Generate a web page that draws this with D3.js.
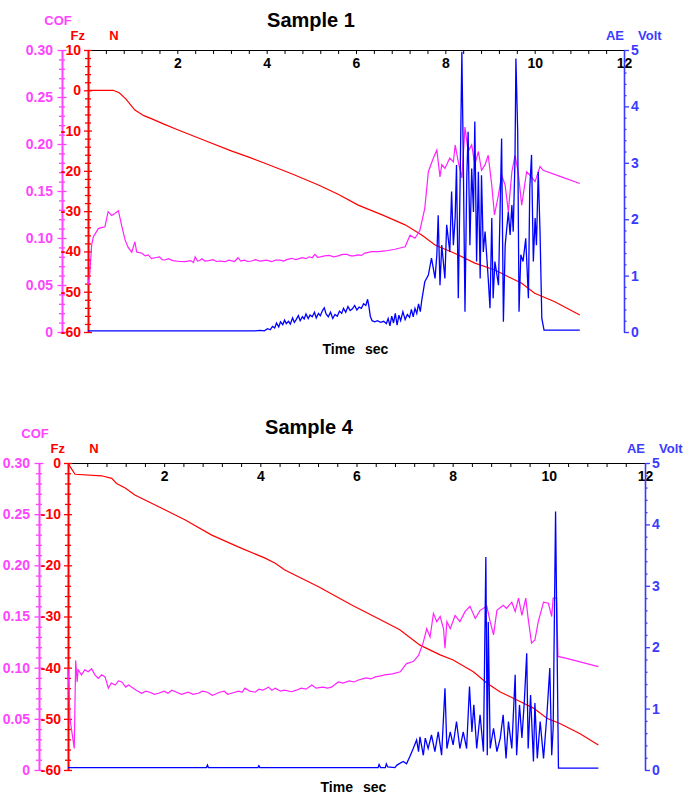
<!DOCTYPE html>
<html>
<head>
<meta charset="utf-8">
<script src="https://cdn.jsdelivr.net/npm/d3@7"></script>
<style>
  body { margin: 0; background: #fff; }
  svg { display: block; }
  text { font-family: Arial, "Liberation Sans", sans-serif; font-weight: bold; }
</style>
</head>
<body>
<svg id="chart" width="688" height="796"></svg>
<script>
// ---- Sample 1 : [time s, value] ----
const s1Force = [[0,0],[0.56,0],[0.7,-0.6],[0.85,-2.2],[1.05,-4.9],[1.25,-6.3],[1.43,-7.1],[1.7,-8.4],[2.02,-9.85],[2.6,-12.4],[3.22,-15.1],[3.6,-16.6],[3.96,-18.1],[4.6,-20.9],[5.16,-23.5],[5.6,-25.8],[6.05,-28.5],[6.6,-31.0],[7.1,-33.4],[7.47,-35.9],[7.77,-38.4],[8.22,-40.5],[8.66,-42.9],[9.11,-44.6],[9.41,-46.3],[9.71,-47.9],[10.0,-50.4],[10.45,-52.5],[11.01,-55.8]];
const s1Cof = [[0,0.05],[0.04,0.062],[0.083,0.093],[0.119,0.101],[0.18,0.106],[0.23,0.110],[0.3,0.111],[0.38,0.112],[0.45,0.128],[0.53,0.124],[0.6,0.126],[0.68,0.129],[0.75,0.114],[0.83,0.098],[0.9,0.09],[0.98,0.085],[1.05,0.096],[1.09,0.085],[1.2,0.084],[1.28,0.081],[1.35,0.082],[1.42,0.078],[1.5,0.079],[1.6,0.080],[1.66,0.077],[1.72,0.0766],[1.8,0.078],[1.9,0.076],[2.05,0.075],[2.17,0.0748],[2.3,0.076],[2.36,0.074],[2.4,0.080],[2.45,0.0755],[2.5,0.076],[2.55,0.078],[2.62,0.0755],[2.7,0.076],[2.8,0.077],[2.88,0.075],[2.95,0.0755],[3.07,0.0748],[3.15,0.0765],[3.2,0.076],[3.28,0.075],[3.36,0.079],[3.42,0.0755],[3.5,0.0765],[3.58,0.075],[3.66,0.0755],[3.75,0.077],[3.85,0.0755],[4.0,0.0765],[4.11,0.0748],[4.2,0.0765],[4.3,0.0765],[4.38,0.0755],[4.45,0.077],[4.56,0.0784],[4.65,0.077],[4.8,0.079],[4.88,0.078],[4.95,0.080],[5.02,0.079],[5.08,0.0826],[5.14,0.0795],[5.2,0.080],[5.3,0.081],[5.4,0.0815],[5.5,0.080],[5.6,0.081],[5.7,0.0825],[5.8,0.0825],[5.88,0.081],[5.95,0.081],[6.05,0.082],[6.12,0.0815],[6.2,0.084],[6.35,0.0854],[6.5,0.0855],[6.65,0.0862],[6.87,0.088],[7.1,0.0907],[7.21,0.103],[7.32,0.0997],[7.43,0.108],[7.54,0.1316],[7.62,0.1705],[7.73,0.1848],[7.81,0.1936],[7.88,0.165],[7.92,0.178],[7.99,0.174],[8.1,0.185],[8.18,0.181],[8.22,0.199],[8.29,0.181],[8.37,0.164],[8.44,0.218],[8.51,0.192],[8.59,0.199],[8.66,0.178],[8.74,0.192],[8.81,0.172],[8.89,0.178],[8.96,0.188],[9.04,0.156],[9.1,0.1245],[9.19,0.146],[9.26,0.167],[9.34,0.156],[9.41,0.128],[9.49,0.1705],[9.56,0.188],[9.63,0.1705],[9.71,0.135],[9.82,0.1705],[9.89,0.167],[10.01,0.160],[10.12,0.176],[10.19,0.172],[10.6,0.165],[11.01,0.158]];
const s1Ae = [[0,0.02],[3.74,0.02],[3.85,0.03],[3.95,0.02],[4.02,0.06],[4.08,0.04],[4.13,0.1],[4.18,0.07],[4.22,0.16],[4.27,0.09],[4.31,0.18],[4.36,0.13],[4.4,0.21],[4.44,0.15],[4.49,0.19],[4.53,0.14],[4.58,0.25],[4.62,0.17],[4.66,0.22],[4.71,0.29],[4.75,0.2],[4.8,0.27],[4.84,0.23],[4.88,0.32],[4.93,0.24],[4.97,0.3],[5.02,0.27],[5.07,0.35],[5.11,0.25],[5.16,0.33],[5.2,0.29],[5.25,0.38],[5.29,0.43],[5.33,0.32],[5.38,0.27],[5.43,0.35],[5.48,0.24],[5.53,0.31],[5.58,0.28],[5.63,0.37],[5.68,0.33],[5.72,0.42],[5.77,0.35],[5.82,0.45],[5.87,0.38],[5.92,0.41],[5.97,0.47],[6.02,0.39],[6.07,0.44],[6.12,0.42],[6.17,0.5],[6.22,0.47],[6.26,0.58],[6.29,0.45],[6.32,0.28],[6.36,0.2],[6.42,0.18],[6.48,0.2],[6.55,0.17],[6.62,0.19],[6.68,0.15],[6.72,0.24],[6.76,0.11],[6.8,0.28],[6.84,0.16],[6.88,0.33],[6.92,0.12],[6.96,0.3],[7.0,0.2],[7.05,0.36],[7.1,0.22],[7.15,0.31],[7.2,0.26],[7.24,0.4],[7.28,0.27],[7.32,0.42],[7.36,0.33],[7.4,0.5],[7.44,0.36],[7.47,0.55],[7.54,0.89],[7.62,1.01],[7.69,1.31],[7.77,0.95],[7.81,1.37],[7.84,2.07],[7.88,0.83],[7.92,1.54],[7.99,0.95],[8.03,1.90],[8.1,1.42],[8.14,2.49],[8.18,1.54],[8.22,2.02],[8.25,2.96],[8.29,0.60],[8.33,2.61],[8.37,4.97],[8.4,3.20],[8.44,0.36],[8.48,2.73],[8.51,3.55],[8.55,1.54],[8.59,2.90],[8.63,2.13],[8.66,3.73],[8.7,1.25],[8.74,2.84],[8.78,0.95],[8.81,2.78],[8.85,1.42],[8.89,1.78],[8.96,0.95],[9.0,0.42],[9.04,2.02],[9.07,0.60],[9.11,1.25],[9.19,0.83],[9.26,3.43],[9.3,0.18],[9.34,1.54],[9.41,2.13],[9.45,1.72],[9.49,2.25],[9.52,1.78],[9.56,3.08],[9.58,4.85],[9.62,3.55],[9.65,0.36],[9.69,1.37],[9.74,1.25],[9.8,1.66],[9.86,0.60],[9.89,2.55],[9.93,3.14],[9.97,1.25],[10.01,2.02],[10.04,1.54],[10.08,2.84],[10.12,1.78],[10.16,0.24],[10.21,0.035],[11.01,0.035]];

// ---- Sample 4 : [time s, value] ----
const s4Force = [[0,0],[0.05,-0.8],[0.146,-2.2],[0.7,-2.5],[0.91,-3.0],[1.01,-4.0],[1.19,-4.9],[1.39,-6.25],[1.95,-8.85],[2.43,-11.1],[2.99,-14.1],[3.54,-16.4],[4.1,-18.6],[4.31,-19.6],[4.51,-20.9],[5.21,-24.2],[5.9,-27.75],[6.49,-30.6],[6.9,-32.6],[7.32,-35.6],[7.74,-37.5],[8.01,-38.5],[8.43,-40.8],[8.71,-43.0],[8.98,-44.7],[9.4,-46.6],[9.68,-47.9],[9.96,-49.9],[10.23,-50.9],[10.65,-52.9],[11.03,-55.1]];
const s4Cof = [[0,0.099],[0.02,0.08],[0.04,0.0505],[0.09,0.034],[0.13,0.021],[0.16,0.107],[0.19,0.086],[0.21,0.098],[0.28,0.093],[0.35,0.098],[0.42,0.096],[0.49,0.099],[0.56,0.093],[0.63,0.0896],[0.7,0.093],[0.77,0.091],[0.84,0.080],[0.9,0.085],[0.98,0.083],[1.05,0.087],[1.12,0.086],[1.2,0.081],[1.26,0.083],[1.32,0.081],[1.42,0.078],[1.53,0.075],[1.62,0.077],[1.7,0.076],[1.8,0.074],[1.88,0.075],[2.0,0.077],[2.08,0.075],[2.16,0.078],[2.26,0.076],[2.36,0.074],[2.5,0.076],[2.6,0.074],[2.71,0.075],[2.8,0.077],[2.9,0.076],[3.0,0.073],[3.06,0.074],[3.15,0.076],[3.25,0.077],[3.32,0.074],[3.4,0.075],[3.55,0.077],[3.62,0.076],[3.68,0.080],[3.78,0.077],[3.89,0.076],[3.97,0.079],[4.05,0.078],[4.17,0.081],[4.24,0.078],[4.31,0.080],[4.42,0.077],[4.5,0.078],[4.65,0.0765],[4.75,0.078],[4.85,0.080],[4.95,0.079],[5.07,0.083],[5.16,0.080],[5.3,0.081],[5.4,0.080],[5.48,0.081],[5.62,0.086],[5.72,0.085],[5.85,0.087],[5.95,0.086],[6.04,0.088],[6.2,0.090],[6.3,0.089],[6.39,0.091],[6.5,0.092],[6.59,0.093],[6.75,0.094],[6.91,0.096],[7.04,0.104],[7.18,0.106],[7.29,0.112],[7.39,0.125],[7.46,0.138],[7.53,0.130],[7.6,0.153],[7.67,0.145],[7.74,0.150],[7.81,0.138],[7.84,0.119],[7.88,0.145],[7.95,0.138],[8.05,0.151],[8.15,0.145],[8.26,0.155],[8.36,0.160],[8.47,0.148],[8.57,0.156],[8.71,0.160],[8.78,0.145],[8.85,0.132],[8.92,0.156],[9.05,0.161],[9.12,0.158],[9.23,0.164],[9.3,0.155],[9.37,0.168],[9.44,0.151],[9.52,0.168],[9.57,0.148],[9.64,0.124],[9.71,0.127],[9.78,0.145],[9.89,0.164],[9.99,0.163],[10.06,0.150],[10.09,0.168],[10.16,0.168],[10.19,0.111],[10.37,0.109],[11.03,0.101]];
const s4Ae = [[0,0.04],[2.88,0.04],[2.9,0.08],[2.92,0.04],[3.95,0.04],[3.97,0.07],[3.99,0.04],[6.45,0.04],[6.47,0.09],[6.5,0.04],[6.6,0.04],[6.62,0.1],[6.65,0.05],[6.8,0.04],[6.84,0.08],[6.97,0.14],[7.04,0.1],[7.11,0.22],[7.18,0.35],[7.25,0.49],[7.29,0.30],[7.32,0.54],[7.39,0.24],[7.43,0.52],[7.49,0.35],[7.56,0.57],[7.63,0.30],[7.7,0.62],[7.77,0.24],[7.84,1.33],[7.88,0.35],[7.95,0.62],[8.01,0.41],[8.08,0.79],[8.15,0.35],[8.22,0.62],[8.29,0.35],[8.35,1.36],[8.4,0.62],[8.44,1.06],[8.5,0.35],[8.57,0.90],[8.64,0.30],[8.69,3.47],[8.72,0.24],[8.74,2.41],[8.78,0.35],[8.85,0.68],[8.92,0.30],[8.99,0.52],[9.05,0.90],[9.11,0.19],[9.16,0.79],[9.23,0.35],[9.3,1.55],[9.33,0.24],[9.39,1.06],[9.44,0.52],[9.49,1.11],[9.54,1.90],[9.57,0.35],[9.62,1.22],[9.68,0.14],[9.71,1.09],[9.76,0.19],[9.82,0.79],[9.89,0.19],[9.96,0.90],[10.02,1.66],[10.06,0.24],[10.09,0.68],[10.14,4.21],[10.16,2.80],[10.2,0.03],[11.03,0.03]];

// ---- axis definitions ----
const timeDomain = [0, 12];
const cofDomain = [0, 0.30];
const aeDomain = [0, 5];
const force1Domain = [-60, 10];
const force4Domain = [-60, 0];

const COLORS = { force: "#ff0000", cof: "#ff22ff", cofAxis: "#ff44ff", ae: "#0000ff", aeAxis: "#3b3bff" };

const svg = d3.select("#chart");

function drawPanel(p) {
  const g = svg.append("g");
  const x = d3.scaleLinear(timeDomain, [p.left, p.right]);
  const yF = d3.scaleLinear(p.forceDomain, [p.bottom, p.top]);
  const yC = d3.scaleLinear(cofDomain, [p.bottom, p.top]);
  const yA = d3.scaleLinear(aeDomain, [p.bottom, p.top]);

  // title
  g.append("text").attr("x", p.titleX).attr("y", p.titleY).attr("text-anchor", "middle")
    .attr("font-size", 20).attr("fill", "#000").text(p.title);

  // time axis along the top, ticks every 0.4 s, labels every 2 s
  const tVals = d3.range(0, 31).map(k => k * 0.4);
  const tAxis = g.append("g").attr("transform", `translate(0,${p.top})`)
    .call(d3.axisBottom(x).tickValues(tVals).tickSize(4).tickSizeOuter(0).tickPadding(4)
      .tickFormat(d => { const k = Math.round(d / 0.4); return (k % 5 === 0 && k > 0) ? String(Math.round(d)) : ""; }));
  tAxis.selectAll("text").attr("font-size", 14).attr("font-family", "Arial, 'Liberation Sans', sans-serif").attr("font-weight", "bold").attr("fill", "#000");
  tAxis.select(".domain").attr("stroke", "#000");

  // vertical axis whose ticks either cross the line or stick out of it
  function vAxis(scale, axisX, values, isMajor, fmt, color, labelColor, majLen, minLen, both, side, labelGap, width) {
    const gen = side === "left" ? d3.axisLeft(scale) : d3.axisRight(scale);
    const a = g.append("g").attr("transform", `translate(${axisX},0)`)
      .call(gen.tickValues(values).tickSizeOuter(0).tickFormat(d => isMajor(d) ? fmt(d) : ""));
    a.select(".domain").attr("stroke", color).attr("stroke-width", width);
    const dir = side === "left" ? -1 : 1;
    a.selectAll(".tick line").attr("stroke", color).attr("stroke-width", 1.3)
      .attr("x1", d => both ? -dir * (isMajor(d) ? majLen : minLen) : 0)
      .attr("x2", d => dir * (isMajor(d) ? majLen : minLen));
    a.selectAll(".tick text").attr("x", dir * labelGap).attr("fill", labelColor)
      .attr("font-size", 14).attr("font-family", "Arial, 'Liberation Sans', sans-serif").attr("font-weight", "bold");
  }

  const near = (a, b) => Math.abs(a - b) < 1e-6;
  // COF axis
  vAxis(yC, p.cofX, d3.range(0, 31).map(k => k / 100), d => near((d * 100) % 5, 0) || near((d * 100) % 5, 5),
    d => d === 0 ? "0" : d.toFixed(2), COLORS.cofAxis, COLORS.cofAxis, 4.5, 3, true, "left", 9, 2);
  // Fz axis
  vAxis(yF, p.left, d3.range(p.forceDomain[0], p.forceDomain[1] + 1, 2), d => d % 10 === 0,
    d => String(d), COLORS.force, COLORS.force, 4, 3, true, "left", 7, 2);
  // AE axis
  vAxis(yA, p.right, d3.range(0, 26).map(k => k / 5), d => near(d, Math.round(d)),
    d => String(Math.round(d)), COLORS.aeAxis, COLORS.aeAxis, 5, 2.5, false, "right", 7, 1.6);

  // axis headings
  const head = (txt, xx, yy, anchor, color, size) => g.append("text").attr("x", xx).attr("y", yy)
    .attr("text-anchor", anchor).attr("font-size", size).attr("fill", color).text(txt);
  head("COF", p.cofX - 4, p.top - 25, "middle", COLORS.cofAxis, 13);
  head("Fz", p.left - 3, p.top - 10, "end", COLORS.force, 13);
  head("N", p.left + 26, p.top - 10, "middle", COLORS.force, 13);
  head("AE", p.right, p.top - 10, "end", COLORS.aeAxis, 13);
  head("Volt", p.right + 14, p.top - 10, "start", COLORS.aeAxis, 13);

  // time axis title
  head("Time", p.timeX - 5, p.bottom + 22, "end", "#000", 14);
  head("sec", p.timeX + 5, p.bottom + 22, "start", "#000", 14);

  // series
  const line = y => d3.line().x(d => x(d[0])).y(d => y(d[1]));
  g.append("path").datum(p.force).attr("d", line(yF)).attr("fill", "none").attr("stroke", COLORS.force).attr("stroke-width", 1.2);
  g.append("path").datum(p.cof).attr("d", line(yC)).attr("fill", "none").attr("stroke", COLORS.cof).attr("stroke-width", 1.2);
  g.append("path").datum(p.ae).attr("d", line(yA)).attr("fill", "none").attr("stroke", COLORS.ae).attr("stroke-width", 1.3);
}

drawPanel({ title: "Sample 1", titleX: 311, titleY: 27, left: 88, right: 624, top: 50, bottom: 332, cofX: 62,
  forceDomain: force1Domain, timeX: 360, force: s1Force, cof: s1Cof, ae: s1Ae });
drawPanel({ title: "Sample 4", titleX: 309, titleY: 434, left: 68, right: 645, top: 463, bottom: 770, cofX: 39,
  forceDomain: force4Domain, timeX: 358, force: s4Force, cof: s4Cof, ae: s4Ae });
</script>
</body>
</html>
